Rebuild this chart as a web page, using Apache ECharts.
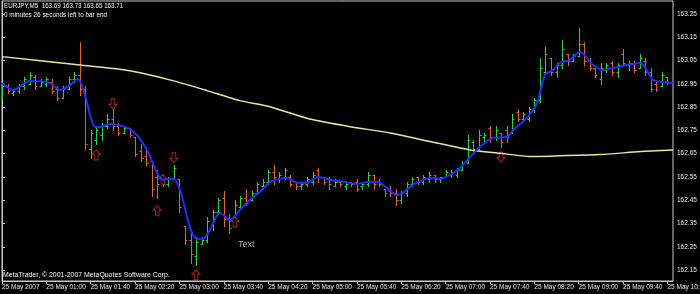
<!DOCTYPE html>
<html>
<head>
<meta charset="utf-8">
<script src="https://cdn.jsdelivr.net/npm/echarts@6/dist/echarts.min.js"></script>
<style>
  html, body { margin: 0; padding: 0; background: #000; }
  #chart { width: 700px; height: 294px; }
</style>
</head>
<body>
<div id="chart"></div>
<script>
  // time labels, one every 8 bars (40 min on M5)
  const tickLabels = ['25 May 2007', '25 May 01:00', '25 May 01:40', '25 May 02:20', '25 May 03:00',
    '25 May 03:40', '25 May 04:20', '25 May 05:00', '25 May 05:40', '25 May 06:20', '25 May 07:00',
    '25 May 07:40', '25 May 08:20', '25 May 09:00', '25 May 09:40', '25 May 10:20']
  const priceTicks = [162.15, 162.25, 162.35, 162.45, 162.55, 162.65, 162.75, 162.85, 162.95, 163.05, 163.15, 163.25]

  // EURJPY M5 bars
  const opens = [162.90, 162.94, 162.91, 162.92, 162.94, 162.95, 162.98, 162.94, 162.95, 162.96,
    162.93, 162.89, 162.93, 162.97, 162.99, 162.93, 162.67, 162.71, 162.73, 162.77,
    162.80, 162.77, 162.74, 162.76, 162.72, 162.66, 162.64, 162.62, 162.55, 162.55,
    162.52, 162.54, 162.54, 162.34, 162.28, 162.21, 162.26, 162.28, 162.35, 162.40,
    162.46, 162.37, 162.38, 162.42, 162.46, 162.45, 162.48, 162.51, 162.53, 162.57,
    162.54, 162.55, 162.55, 162.53, 162.51, 162.52, 162.53, 162.58, 162.55, 162.54,
    162.51, 162.53, 162.51, 162.53, 162.53, 162.51, 162.52, 162.56, 162.53, 162.50,
    162.49, 162.48, 162.45, 162.48, 162.52, 162.55, 162.53, 162.54, 162.56, 162.54,
    162.55, 162.56, 162.56, 162.58, 162.61, 162.70, 162.67, 162.72, 162.76, 162.72,
    162.74, 162.75, 162.74, 162.83, 162.80, 162.80, 162.84, 162.88, 163.00, 163.06,
    163.00, 163.03, 163.08, 163.05, 163.07, 163.12, 163.05, 163.02, 162.97, 163.01,
    163.04, 163.00, 163.08, 163.03, 163.04, 163.02, 163.05, 163.00, 162.95, 162.94,
    162.98]
  const highs = [162.95, 162.95, 162.93, 162.95, 162.98, 163.00, 162.99, 162.97, 162.98, 162.97,
    162.94, 162.94, 162.98, 163.00, 163.13, 162.94, 162.75, 162.76, 162.78, 162.82,
    162.84, 162.78, 162.77, 162.76, 162.72, 162.69, 162.67, 162.62, 162.58, 162.56,
    162.55, 162.60, 162.54, 162.34, 162.31, 162.29, 162.29, 162.38, 162.41, 162.46,
    162.49, 162.39, 162.45, 162.47, 162.50, 162.49, 162.53, 162.54, 162.58, 162.60,
    162.57, 162.59, 162.56, 162.53, 162.53, 162.55, 162.57, 162.59, 162.55, 162.55,
    162.54, 162.53, 162.53, 162.53, 162.54, 162.53, 162.57, 162.56, 162.54, 162.50,
    162.51, 162.50, 162.49, 162.53, 162.55, 162.55, 162.56, 162.57, 162.56, 162.55,
    162.58, 162.58, 162.59, 162.62, 162.73, 162.71, 162.75, 162.74, 162.77, 162.77,
    162.74, 162.77, 162.82, 162.84, 162.83, 162.85, 162.89, 163.06, 163.11, 163.06,
    163.04, 163.14, 163.08, 163.08, 163.19, 163.13, 163.06, 163.02, 163.04, 163.04,
    163.05, 163.04, 163.10, 163.05, 163.05, 163.08, 163.06, 163.02, 162.96, 163.00,
    162.98]
  const lows = [162.89, 162.91, 162.90, 162.91, 162.93, 162.95, 162.93, 162.94, 162.94, 162.91,
    162.88, 162.89, 162.93, 162.96, 162.90, 162.67, 162.63, 162.69, 162.71, 162.76,
    162.75, 162.73, 162.74, 162.72, 162.64, 162.62, 162.60, 162.47, 162.46, 162.51,
    162.51, 162.54, 162.40, 162.26, 162.18, 162.17, 162.26, 162.27, 162.32, 162.39,
    162.34, 162.31, 162.36, 162.42, 162.43, 162.45, 162.48, 162.50, 162.52, 162.52,
    162.53, 162.54, 162.51, 162.50, 162.50, 162.51, 162.52, 162.53, 162.52, 162.50,
    162.51, 162.51, 162.50, 162.51, 162.49, 162.50, 162.51, 162.50, 162.51, 162.47,
    162.47, 162.43, 162.44, 162.47, 162.51, 162.52, 162.52, 162.53, 162.53, 162.53,
    162.55, 162.55, 162.55, 162.58, 162.61, 162.65, 162.67, 162.70, 162.70, 162.71,
    162.68, 162.70, 162.74, 162.79, 162.79, 162.79, 162.83, 162.87, 163.00, 162.99,
    162.98, 163.02, 163.03, 163.05, 163.07, 163.03, 163.01, 162.98, 162.95, 163.00,
    162.99, 162.98, 163.03, 163.01, 163.00, 163.02, 162.99, 162.92, 162.92, 162.94,
    162.95]
  const closes = [162.94, 162.92, 162.92, 162.94, 162.97, 162.99, 162.94, 162.96, 162.97, 162.92,
    162.89, 162.93, 162.97, 162.99, 162.93, 162.69, 162.74, 162.75, 162.77, 162.80,
    162.77, 162.74, 162.76, 162.73, 162.65, 162.63, 162.61, 162.50, 162.52, 162.52,
    162.54, 162.59, 162.42, 162.28, 162.22, 162.27, 162.28, 162.36, 162.40, 162.45,
    162.37, 162.33, 162.43, 162.46, 162.44, 162.48, 162.52, 162.53, 162.57, 162.55,
    162.56, 162.58, 162.52, 162.51, 162.52, 162.54, 162.56, 162.55, 162.53, 162.52,
    162.53, 162.52, 162.52, 162.52, 162.50, 162.52, 162.56, 162.52, 162.52, 162.48,
    162.48, 162.45, 162.48, 162.52, 162.54, 162.53, 162.55, 162.56, 162.54, 162.55,
    162.57, 162.57, 162.58, 162.61, 162.71, 162.67, 162.73, 162.73, 162.72, 162.75,
    162.70, 162.72, 162.80, 162.80, 162.82, 162.84, 162.88, 163.02, 163.08, 163.00,
    163.03, 163.10, 163.05, 163.07, 163.12, 163.05, 163.02, 162.99, 163.02, 163.03,
    163.00, 163.03, 163.04, 163.04, 163.01, 163.06, 163.00, 162.93, 162.93, 162.99,
    162.96]

  // fast MA (blue), read as [bar, price]
  const fastMA = [[0, 162.954], [1.98, 162.924], [5.05, 162.962], [8.66, 162.954], [10.46, 162.924],
    [12.26, 162.945], [13.7, 162.971], [14.97, 162.902], [15.87, 162.817], [16.77, 162.765],
    [17.67, 162.765], [19.48, 162.778], [22.18, 162.765], [23.99, 162.739], [26.15, 162.666],
    [27.95, 162.568], [29.04, 162.538], [30.84, 162.542], [32.1, 162.495], [33.36, 162.379],
    [34.26, 162.310], [35.35, 162.284], [36.25, 162.284], [37.51, 162.323], [39.31, 162.396],
    [41.12, 162.366], [42.92, 162.409], [44.72, 162.452], [46.53, 162.486], [48.33, 162.529],
    [50.14, 162.542], [51.4, 162.546], [53.2, 162.525], [55.0, 162.525], [57.0, 162.550],
    [59.15, 162.538], [61.5, 162.529], [64.0, 162.520], [66.4, 162.529], [68.2, 162.525],
    [69.4, 162.503], [71.2, 162.473], [72.3, 162.482], [74.1, 162.516], [77.2, 162.546],
    [79.0, 162.542], [80.8, 162.559], [82.6, 162.589], [84.4, 162.636], [86.2, 162.679],
    [88.5, 162.718], [91.1, 162.722], [92.2, 162.752], [94.7, 162.804], [96.5, 162.868],
    [97.9, 162.988], [99.4, 163.010], [100.6, 163.040], [102.4, 163.053], [104.2, 163.087],
    [106.6, 163.031], [108.4, 163.010], [110.2, 163.018], [112.7, 163.031], [115.1, 163.040],
    [117.4, 162.967], [119.2, 162.958], [121, 162.954]]
  // slow MA (pale yellow)
  const slowMA = [[0, 163.067], [14.07, 163.031], [21.28, 163.013], [24.9, 162.998], [30.8, 162.964],
    [36.97, 162.921], [42.9, 162.878], [48.3, 162.852], [55.5, 162.799], [62.8, 162.766],
    [70.0, 162.739], [77.2, 162.702], [84.4, 162.666], [89.8, 162.652], [95.2, 162.638],
    [100.6, 162.641], [107.8, 162.646], [115.1, 162.659], [121, 162.666]]

  // fractal arrows
  const upArrows = [[17, 162.645], [28, 162.405], [29, 162.54], [35, 162.130], [42, 162.357]]
  const downArrows = [[20, 162.864], [31, 162.632], [90, 162.636]]

  const chart = echarts.init(document.getElementById('chart'))

  const barData = opens.map((o, i) => [i, o, highs[i], lows[i], closes[i]])

  const upPath = 'path://M4.5,0 L9,5 L6.5,5 L6.5,11 L2.5,11 L2.5,5 L0,5 Z'
  const downPath = 'path://M2.5,0 L6.5,0 L6.5,6 L9,6 L4.5,11 L0,6 L2.5,6 Z'

  function renderBar (params, api) {
    const i = api.value(0)
    const o = api.coord([i, api.value(1)])
    const h = api.coord([i, api.value(2)])
    const l = api.coord([i, api.value(3)])
    const c = api.coord([i, api.value(4)])
    const x = Math.round(o[0]) + 0.5
    const color = api.value(4) >= api.value(1) ? '#35d335' : '#e2662c'
    const st = { stroke: color, lineWidth: 1 }
    return {
      type: 'group',
      children: [
        { type: 'line', shape: { x1: x, y1: Math.round(h[1]), x2: x, y2: Math.round(l[1]) + 1 }, style: st },
        { type: 'line', shape: { x1: x - 2, y1: Math.round(o[1]) + 0.5, x2: x, y2: Math.round(o[1]) + 0.5 }, style: st },
        { type: 'line', shape: { x1: x, y1: Math.round(c[1]) + 0.5, x2: x + 2, y2: Math.round(c[1]) + 0.5 }, style: st }
      ]
    }
  }

  // small white captions drawn in a narrow pixel-like style
  function caption (text, x, y, sx) {
    return {
      type: 'text', x: x, y: y, scaleX: sx,
      style: { text: text, fill: '#f4f4f4', font: '8px "Liberation Sans"', verticalAlign: 'top' }
    }
  }

  const option = {
    backgroundColor: '#000',
    animation: false,
    grid: {
      left: 2, right: 27, top: 1, bottom: 13,
      outerBoundsMode: 'none',
      show: true, borderColor: '#c8c8c8', borderWidth: 1
    },
    xAxis: {
      type: 'value',
      min: 0,
      max: 121,
      interval: 8,
      axisLine: { show: true, onZero: false, lineStyle: { color: '#c8c8c8' } },
      axisTick: { show: true, length: 3, lineStyle: { color: '#c8c8c8' } },
      splitLine: { show: false },
      axisLabel: {
        color: '#e8e8e8',
        fontSize: 6.5,
        fontFamily: 'Liberation Sans',
        align: 'left',
        margin: 3,
        showMinLabel: true,
        showMaxLabel: false,
        hideOverlap: false,
        formatter: v => (v % 8 === 0 ? tickLabels[v / 8] : '')
      }
    },
    yAxis: {
      type: 'value',
      position: 'right',
      min: 162.103,
      max: 163.306,
      axisLine: { show: true, lineStyle: { color: '#c8c8c8' } },
      axisTick: { show: true, length: 3, customValues: priceTicks, lineStyle: { color: '#c8c8c8' } },
      splitLine: { show: false },
      axisLabel: {
        color: '#e8e8e8',
        fontSize: 6.5,
        fontFamily: 'Liberation Sans',
        margin: 4,
        showMinLabel: true,
        showMaxLabel: true,
        hideOverlap: false,
        customValues: priceTicks,
        formatter: v => v.toFixed(2)
      }
    },
    series: [
      {
        type: 'custom',
        renderItem: renderBar,
        data: barData,
        encode: { x: 0, y: [1, 2, 3, 4] },
        clip: true
      },
      {
        type: 'line',
        data: slowMA,
        showSymbol: false,
        smooth: 0.2,
        lineStyle: { color: '#e8e6a0', width: 1.5 }
      },
      {
        type: 'line',
        data: fastMA,
        showSymbol: false,
        smooth: 0.3,
        lineStyle: { color: '#1e30ff', width: 2 }
      },
      {
        type: 'scatter',
        data: upArrows,
        symbol: upPath,
        symbolSize: [8, 10],
        itemStyle: { color: '#000', borderColor: '#d42828', borderWidth: 1 }
      },
      {
        type: 'scatter',
        data: downArrows,
        symbol: downPath,
        symbolSize: [8, 10],
        itemStyle: { color: '#000', borderColor: '#d42828', borderWidth: 1 }
      }
    ],
    graphic: [
      caption('EURJPY,M5  163.69 163.73 163.65 163.71', 4, 2, 0.78),
      caption('0 minutes 26 seconds left to bar end', 4, 11, 0.8),
      caption('MetaTrader, © 2001-2007 MetaQuotes Software Corp.', 3, 271, 0.865),
      { type: 'text', x: 238, y: 240, style: { text: 'Text', fill: '#a8a8a8', font: '9px "Liberation Sans"', verticalAlign: 'top' } }
    ]
  }

  chart.setOption(option)
</script>
</body>
</html>
